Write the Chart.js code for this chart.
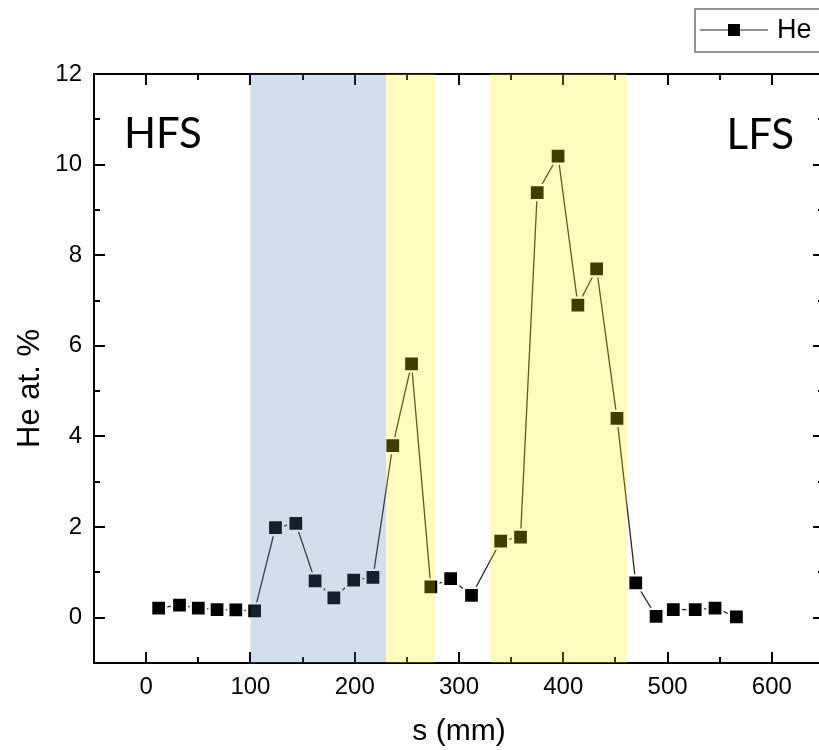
<!DOCTYPE html>
<html lang="en">
<head>
    <meta charset="UTF-8">
    <title>He at. % vs s</title>
    <style>
        body {
            margin: 0;
            padding: 0;
            background: #ffffff;
            overflow: hidden;
        }

        .wrap {
            width: 850px;
            height: 750px;
        }
    </style>
</head>
<body>
    <div class="wrap">
        <canvas id="heChart" width="850" height="750"></canvas>
    </div>

    <script src="https://cdn.jsdelivr.net/npm/chart.js"></script>
    <script>
        // data
        const sPos = [12, 32, 50, 68, 86, 104, 124, 143.5, 162, 180, 199, 217.5, 236.5, 254.5, 273, 292, 312, 340, 359, 375, 395, 414, 432, 451.5, 469.5, 489, 505.5, 526.5, 545.5, 566];
        const heAt = [0.21, 0.28, 0.21, 0.18, 0.17, 0.15, 1.99, 2.08, 0.81, 0.44, 0.83, 0.89, 3.8, 5.6, 0.68, 0.86, 0.49, 1.69, 1.78, 9.38, 10.19, 6.9, 7.7, 4.4, 0.77, 0.03, 0.18, 0.18, 0.21, 0.02];

        const xTicks = [0, 100, 200, 300, 400, 500, 600];
        const yTicks = [0, 2, 4, 6, 8, 10, 12];

        // shaded regions along s
        const bandFrom = [100, 230, 330];
        const bandTo = [230, 277, 461];
        const bandColor = ['rgba(71, 123, 179, 0.25)', 'rgba(255, 243, 0, 0.25)', 'rgba(255, 243, 0, 0.25)'];

        const sideLabels = ['HFS', 'LFS'];
        const yTitle = 'He at. %';

        function seg(ctx, x1, y1, x2, y2) {
            ctx.beginPath();
            ctx.moveTo(x1, y1);
            ctx.lineTo(x2, y2);
            ctx.stroke();
        }

        // box, inward ticks and the shaded bands on top
        const framePlugin = {
            id: 'framePlugin',
            afterDatasetsDraw(chart) {
                const { ctx, chartArea: a, scales: { x, y } } = chart;
                ctx.save();
                ctx.strokeStyle = '#000';
                ctx.lineWidth = 2;
                ctx.strokeRect(a.left, a.top, a.right - a.left, a.bottom - a.top);

                for (let v = x.min; v <= x.max; v += 50) {
                    const px = Math.round(x.getPixelForValue(v));
                    const len = v % 100 === 0 ? 11 : 6;
                    seg(ctx, px, a.bottom, px, a.bottom - len);
                    seg(ctx, px, a.top, px, a.top + len);
                }
                for (let v = y.min; v <= y.max; v += 1) {
                    const py = Math.round(y.getPixelForValue(v));
                    const len = v % 2 === 0 ? 11 : 6;
                    seg(ctx, a.left, py, a.left + len, py);
                    seg(ctx, a.right, py, a.right - len, py);
                }

                for (let i = 0; i < bandFrom.length; i++) {
                    const x1 = x.getPixelForValue(bandFrom[i]);
                    const x2 = x.getPixelForValue(bandTo[i]);
                    ctx.fillStyle = bandColor[i];
                    ctx.fillRect(x1, a.top, x2 - x1, a.bottom - a.top);
                }
                ctx.restore();
            },
            afterDraw(chart) {
                const { ctx, chartArea: a } = chart;
                ctx.save();

                // y title, sits a bit below the middle of the axis
                ctx.fillStyle = '#000';
                ctx.font = '31px "Liberation Sans", Arial, sans-serif';
                ctx.textAlign = 'center';
                ctx.textBaseline = 'middle';
                ctx.translate(30, (a.top + a.bottom) / 2 + 20);
                ctx.rotate(-Math.PI / 2);
                ctx.fillText(yTitle, 0, 0);
                ctx.setTransform(1, 0, 0, 1, 0, 0);

                // HFS / LFS
                ctx.font = '42px Lato';
                ctx.textBaseline = 'alphabetic';
                ctx.textAlign = 'left';
                ctx.fillText(sideLabels[0], a.left + 30, a.top + 74);
                ctx.textAlign = 'right';
                ctx.fillText(sideLabels[1], a.right - 30, a.top + 75);

                // legend
                const lx = 695, ly = 9;
                ctx.fillStyle = '#fff';
                ctx.fillRect(lx, ly, 160, 43);
                ctx.strokeStyle = '#707070';
                ctx.lineWidth = 1.5;
                ctx.strokeRect(lx, ly, 160, 43);
                const cy = ly + 21;
                ctx.strokeStyle = '#222';
                ctx.lineWidth = 1.2;
                seg(ctx, lx + 5, cy, lx + 73, cy);
                ctx.fillStyle = '#000';
                ctx.fillRect(lx + 33, cy - 6, 12, 12);
                ctx.font = '27px "Liberation Sans", Arial, sans-serif';
                ctx.textAlign = 'left';
                ctx.textBaseline = 'middle';
                ctx.fillText(chart.data.datasets[0].label, lx + 82, cy + 1);
                ctx.restore();
            }
        };

        const tickFont = { family: '"Liberation Sans", Arial, sans-serif', size: 24 };
        const titleFont = { family: '"Liberation Sans", Arial, sans-serif', size: 30 };

        const heCtx = document.getElementById('heChart').getContext('2d');
        const heChart = new Chart(heCtx, {
            type: 'line',
            data: {
                datasets: [{
                    label: 'He',
                    data: sPos.map((s, i) => ({ x: s, y: heAt[i] })),
                    borderColor: '#2a2a2a',
                    borderWidth: 1.3,
                    pointStyle: 'rect',
                    pointRadius: 10.6,
                    pointHoverRadius: 10.6,
                    pointBackgroundColor: '#000',
                    pointBorderColor: '#fff',
                    pointBorderWidth: 2.25,
                    tension: 0,
                    fill: false
                }]
            },
            options: {
                responsive: false,
                animation: false,
                events: [],
                layout: {
                    padding: { left: 0, right: 26, top: 74, bottom: 0 }
                },
                scales: {
                    x: {
                        type: 'linear',
                        min: -50,
                        max: 650,
                        grid: { display: false, drawTicks: false },
                        border: { display: false },
                        afterBuildTicks: s => { s.ticks = xTicks.map(v => ({ value: v })); },
                        afterFit: s => { s.height = 87; },
                        ticks: {
                            font: tickFont,
                            color: '#000',
                            padding: 10,
                            maxRotation: 0
                        },
                        title: {
                            display: true,
                            text: 's (mm)',
                            font: titleFont,
                            color: '#000',
                            padding: { top: 0, bottom: 0 }
                        }
                    },
                    y: {
                        min: -1,
                        max: 12,
                        grid: { display: false, drawTicks: false },
                        border: { display: false },
                        afterBuildTicks: s => { s.ticks = yTicks.map(v => ({ value: v })); },
                        afterFit: s => { s.width = 94; },
                        ticks: {
                            font: tickFont,
                            color: '#000',
                            padding: 12
                        }
                    }
                },
                plugins: {
                    legend: { display: false },
                    tooltip: { enabled: false }
                }
            },
            plugins: [framePlugin]
        });
    </script>
</body>
</html>
